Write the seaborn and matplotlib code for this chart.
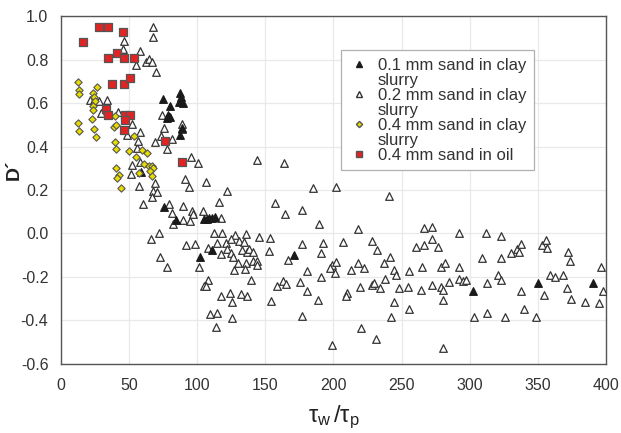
import matplotlib
matplotlib.use("Agg")
import matplotlib.pyplot as plt
import seaborn as sns
import pandas as pd
from matplotlib.lines import Line2D
from matplotlib.ticker import FormatStrFormatter, MultipleLocator

# ---------------- data ----------------
black_x = [75.1, 80.0, 78.8, 77.6, 80.0, 87.6, 88.1, 86.8, 89.3, 88.6, 87.3, 58.7,
           105, 107, 109, 111, 113, 75.6, 84.4, 102.3, 111, 171, 350.4, 390.7, 302.1]
black_y = [0.620, 0.586, 0.545, 0.530, 0.537, 0.647, 0.626, 0.606, 0.599, 0.484, 0.453, 0.284,
           0.065, 0.068, 0.070, 0.072, 0.076, 0.123, 0.062, -0.107, -0.076, -0.099, -0.226, -0.226, -0.263]

white_x = [67.5, 67.5, 46.6, 45.7, 58.2, 62.1, 64.6, 66.6, 55.3, 69.7,
           21.3, 24.5, 28.1, 29.1, 34.0, 41.6, 52.1, 48.2, 57.7, 55.6,
           56.3, 52.0, 51.6, 57.5, 60.2, 58.0, 67.3, 70.7, 67.0, 68.8,
           73.9, 75.8, 73.4, 81.2, 69.0, 77.6, 88.8, 88.8, 95.5, 100.7,
           91.1, 93.6, 106.3, 121.6, 115.8, 143.6, 79.5, 81.5, 89.5, 96.4,
           97.1, 104.0, 117.5, 82.2, 89.3, 94.8, 71.6, 65.8, 91.7, 98.7,
           112.5, 117.9, 128.0, 130.9, 114.2, 121.1, 122.1, 124.5, 108.1, 117.1,
           124.5, 126.0, 129.9, 126.8, 72.7, 77.6, 101.4, 107.7, 104.7, 106.2,
           117.7, 123.8, 125.3, 114.3, 109.6, 113.8, 125.3, 131.8, 163.7, 184.7,
           201.8, 240.7, 157.1, 164.4, 176.6, 189.1, 218.0, 266.7, 272.5, 135.6,
           134.3, 132.8, 136.3, 138.2, 141.1, 145.1, 153.2, 152.7, 136.0, 140.7,
           144.1, 143.6, 135.0, 139.7, 166.8, 177.1, 180.3, 192.5, 190.8, 190.6,
           163.2, 165.1, 158.3, 175.2, 180.8, 154.1, 188.4, 176.6, 136.7, 199.1,
           197.4, 200.9, 201.8, 207.0, 213.1, 218.0, 222.6, 209.9, 209.0, 219.4,
           198.9, 220.2, 228.5, 231.7, 241.5, 237.1, 244.6, 245.7, 237.6, 228.0,
           230.0, 234.1, 244.4, 241.9, 231.5, 248.3, 254.9, 255.6, 255.4, 264.0,
           265.2, 260.6, 266.4, 272.5, 276.9, 272.3, 278.7, 280.4, 279.1, 282.0,
           280.6, 280.1, 285.0, 292.1, 311.9, 322.9, 292.1, 292.1, 295.3, 297.0,
           303.3, 309.2, 312.5, 312.9, 320.5, 323.2, 322.9, 325.9, 330.3, 334.9,
           335.9, 337.8, 337.4, 339.6, 348.9, 353.0, 356.2, 356.9, 354.5, 359.1,
           362.3, 368.4, 371.1, 372.1, 373.4, 374.3, 384.8, 395.1, 396.6, 398.0]
white_y = [0.948, 0.903, 0.886, 0.848, 0.841, 0.790, 0.802, 0.790, 0.775, 0.744,
           0.614, 0.614, 0.611, 0.553, 0.612, 0.560, 0.502, 0.453, 0.468, 0.392,
           0.425, 0.316, 0.272, 0.218, 0.136, 0.330, 0.195, 0.192, 0.169, 0.231,
           0.545, 0.484, 0.448, 0.433, 0.422, 0.388, 0.503, 0.479, 0.352, 0.323,
           0.249, 0.212, 0.235, 0.195, 0.143, 0.336, 0.137, 0.095, 0.128, 0.105,
           0.090, 0.103, 0.073, 0.042, 0.062, 0.058, 0.001, -0.024, -0.052, -0.048,
           0.000, 0.001, -0.007, -0.033, -0.045, -0.045, -0.073, -0.027, -0.068, -0.096,
           -0.091, -0.107, -0.134, -0.168, -0.107, -0.152, -0.153, -0.214, -0.243, -0.242,
           -0.287, -0.275, -0.316, -0.364, -0.371, -0.431, -0.390, -0.277, 0.326, 0.211,
           0.215, 0.174, 0.142, 0.088, 0.108, 0.044, 0.019, 0.024, 0.029, -0.004,
           -0.040, -0.076, -0.087, -0.069, -0.087, -0.018, -0.021, -0.080, -0.136, -0.125,
           -0.125, -0.145, -0.162, -0.215, -0.122, -0.050, -0.172, -0.042, -0.091, -0.201,
           -0.217, -0.234, -0.242, -0.223, -0.263, -0.310, -0.307, -0.381, -0.289, -0.145,
           -0.160, -0.180, -0.131, -0.040, -0.168, -0.134, -0.160, -0.275, -0.289, -0.248,
           -0.513, -0.435, -0.033, -0.076, -0.107, -0.137, -0.168, -0.191, -0.209, -0.238,
           -0.226, -0.252, -0.316, -0.385, -0.487, -0.252, -0.248, -0.172, -0.347, -0.260,
           -0.156, -0.060, -0.053, -0.027, -0.061, -0.237, -0.248, -0.260, -0.156, -0.137,
           -0.306, -0.526, -0.221, 0.004, 0.004, -0.010, -0.156, -0.209, -0.217, -0.214,
           -0.383, -0.113, -0.226, -0.364, -0.189, -0.214, -0.113, -0.385, -0.091, -0.070,
           -0.087, -0.047, -0.263, -0.349, -0.385, -0.053, -0.030, -0.068, -0.283, -0.192,
           -0.199, -0.191, -0.251, -0.087, -0.126, -0.300, -0.313, -0.321, -0.153, -0.263]

yellow_x = [12.5, 13.0, 13.0, 12.5, 13.4, 26.7, 23.7, 24.2, 25.2, 23.5, 23.7, 23.0,
            24.2, 25.5, 39.6, 38.7, 40.4, 39.9, 40.1, 40.1, 42.3, 41.0, 43.7, 49.7,
            53.6, 55.0, 59.7, 62.9, 61.1, 57.5, 64.6, 66.6, 67.3, 65.3, 66.6]
yellow_y = [0.698, 0.660, 0.641, 0.507, 0.473, 0.675, 0.645, 0.626, 0.609, 0.586, 0.568, 0.526,
            0.479, 0.442, 0.540, 0.491, 0.499, 0.422, 0.388, 0.300, 0.269, 0.257, 0.211, 0.381,
            0.448, 0.353, 0.385, 0.369, 0.320, 0.277, 0.312, 0.312, 0.300, 0.286, 0.264]

red_x = [16.1, 27.9, 34.7, 45.5, 34.7, 41.1, 46.2, 53.6, 37.4, 46.2,
         50.6, 33.0, 34.3, 47.0, 50.6, 47.0, 46.5, 76.3, 88.8]
red_y = [0.879, 0.951, 0.951, 0.928, 0.808, 0.831, 0.808, 0.808, 0.689, 0.689,
         0.714, 0.571, 0.545, 0.545, 0.545, 0.522, 0.476, 0.427, 0.330]

labels = ["0.1 mm sand in clay slurry", "0.2 mm sand in clay slurry",
          "0.4 mm sand in clay slurry", "0.4 mm sand in oil"]

x_ticks = [0, 50, 100, 150, 200, 250, 300, 350, 400]

# ---------------- styling ----------------
sns.set_theme(style="whitegrid")
plt.rcParams['font.family'] = ['Liberation Sans', 'DejaVu Sans']
plt.rcParams['axes.unicode_minus'] = False
plt.rcParams['mathtext.fontset'] = 'custom'
plt.rcParams['mathtext.rm'] = 'Liberation Sans'
plt.rcParams['mathtext.it'] = 'Liberation Sans'
plt.rcParams['mathtext.bf'] = 'Liberation Sans:bold'

fig = plt.figure(figsize=(6.21, 4.33), dpi=100)
ax = fig.add_axes([0.0982, 0.1594, 0.8776, 0.8036])

df_b = pd.DataFrame({"x": black_x, "y": black_y})
df_w = pd.DataFrame({"x": white_x, "y": white_y})
df_yl = pd.DataFrame({"x": yellow_x, "y": yellow_y})
df_r = pd.DataFrame({"x": red_x, "y": red_y})

sns.scatterplot(data=df_w, x="x", y="y", ax=ax, marker="^", s=30, color="white",
                edgecolor="#333333", linewidth=0.9, zorder=3, legend=False)
sns.scatterplot(data=df_b, x="x", y="y", ax=ax, marker="^", s=30, color="#1a1a1a",
                edgecolor="#1a1a1a", linewidth=0.9, zorder=4, legend=False)
sns.scatterplot(data=df_yl, x="x", y="y", ax=ax, marker="D", s=14, color="#e6dc00",
                edgecolor="#555555", linewidth=0.8, zorder=5, legend=False)
sns.scatterplot(data=df_r, x="x", y="y", ax=ax, marker="s", s=30, color="#e02424",
                edgecolor="#555555", linewidth=0.9, zorder=6, legend=False)

ax.set_xlim(0, 400)
ax.set_ylim(-0.6, 1.0)
ax.set_xticks(x_ticks)
ax.yaxis.set_major_locator(MultipleLocator(0.2))
ax.yaxis.set_major_formatter(FormatStrFormatter('%.1f'))
ax.grid(True, color="#e9e9e9", linewidth=0.9)
ax.set_facecolor("white")
for side in ["left", "bottom", "right", "top"]:
    ax.spines[side].set_visible(True)
    ax.spines[side].set_color("#555555")
    ax.spines[side].set_linewidth(1.0)
ax.tick_params(axis="x", length=4, color="#999999", labelsize=11.5, labelcolor="#333333", pad=6)
ax.tick_params(axis="y", length=3, color="#aaaaaa", labelsize=11.5, labelcolor="#333333", pad=6)

ax.set_xlabel(r"$\tau_{\mathrm{w}}\,/\tau_{\mathrm{p}}$", fontsize=17, color="#222222", labelpad=8)
ax.set_ylabel("D\u00b4", fontsize=14, fontweight="bold", color="#222222")
ax.yaxis.set_label_coords(-0.070, 0.557)

# legend (wrapped labels as in the reference)
handles = [
    Line2D([], [], linestyle="none", marker="^", markersize=4.5, markerfacecolor="#1a1a1a", markeredgecolor="#1a1a1a"),
    Line2D([], [], linestyle="none", marker=None),
    Line2D([], [], linestyle="none", marker="^", markersize=4.5, markerfacecolor="white", markeredgecolor="#333333"),
    Line2D([], [], linestyle="none", marker=None),
    Line2D([], [], linestyle="none", marker="D", markersize=3.2, markerfacecolor="#e6dc00", markeredgecolor="#555555"),
    Line2D([], [], linestyle="none", marker=None),
    Line2D([], [], linestyle="none", marker="s", markersize=4.5, markerfacecolor="#e02424", markeredgecolor="#555555"),
]
leg_texts = []
for lab in labels:
    if lab.endswith(" slurry"):
        leg_texts.append(lab[:-len(" slurry")])
        leg_texts.append("slurry")
    else:
        leg_texts.append(lab)
leg = ax.legend(handles, leg_texts, loc="upper left", bbox_to_anchor=(0.514, 0.902),
                fontsize=12, frameon=True, fancybox=False, framealpha=1,
                edgecolor="#b0b0b0", labelspacing=0.0, handlelength=1.25,
                handletextpad=0.5, borderpad=0.45, borderaxespad=0)
leg.get_frame().set_linewidth(0.9)
for t in leg.get_texts():
    t.set_color("#333333")

fig.savefig("out.png", dpi=100)
